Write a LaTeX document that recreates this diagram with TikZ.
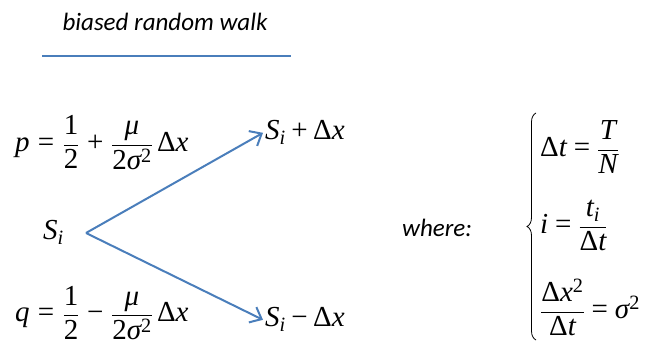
\documentclass[tikz,border=0pt]{standalone}
\usepackage{amsmath}
\usepackage{fontspec}
\newfontfamily\calfont{Carlito}
\newfontfamily\tnr{Liberation Serif}
\newcommand{\mi}[1]{\text{\tnr\itshape #1}}
\newcommand{\mr}[1]{\text{\tnr #1}}
\newcommand{\eqrel}{\mathrel{\mr{=}}}
\newcommand{\pl}{\mathbin{\mr{+}}}
\newcommand{\mn}{\mathbin{\mr{−}}}
\newcommand{\wsp}{\medmuskip=5.5mu\relax\thickmuskip=6mu\relax}
\usetikzlibrary{arrows.meta,decorations.pathreplacing}
\definecolor{walkblue}{RGB}{74,126,187}
\begin{document}
\begin{tikzpicture}[x=1pt,y=-1pt,
  every node/.style={inner sep=0pt},
  eq/.style={anchor=base west, font=\fontsize{29}{33}\selectfont},
  lbl/.style={font=\calfont\itshape\fontsize{25}{30}\selectfont},
  arr/.style={draw=walkblue, line width=2pt, -{Straight Barb[length=10pt,width=17pt]}}]
\useasboundingbox (0,0) rectangle (651,344);
% title
\node[lbl, anchor=base] (title) at (165,31) {biased random walk};
\draw[walkblue, line width=2pt] (42,56) -- (291,56);
% probabilities
\node[eq] (p) at (15,151.7) {$\wsp\mi{p}\eqrel\dfrac{\mr{1}}{\mr{2}}\pl\dfrac{\mi{μ}}{\mr{2}\mi{σ}^{\mr{2}}}\,\mr{Δ}\mi{x}$};
\node[eq] (q) at (15,322) {$\wsp\mi{q}\eqrel\dfrac{\mr{1}}{\mr{2}}\mn\dfrac{\mi{μ}}{\mr{2}\mi{σ}^{\mr{2}}}\,\mr{Δ}\mi{x}$};
% walk
\node[eq] (Si) at (43,240) {$\mi{S}_{\mi{i}}$};
\node[eq] (up) at (265,140) {$\mi{S}_{\mi{i}}\pl\mr{Δ}\mi{x}$};
\node[eq] (down) at (265,327) {$\mi{S}_{\mi{i}}\mn\mr{Δ}\mi{x}$};
\coordinate (fork) at (86,233);
\draw[arr] (fork) -- ([xshift=-2pt]up.west);
\draw[arr] (fork) -- ([xshift=-2pt]down.west);
% where
\node[lbl, anchor=base west] (where) at (402,236.7) {where:};
\draw[line width=0.8pt, decorate, decoration={brace, amplitude=9pt}] (536,340) -- (536,113);
\node[eq] (dt) at (540,156.5) {$\mr{Δ}\mi{t}\eqrel\dfrac{\mi{T}}{\mi{N}}$};
\node[eq] (ii) at (540,233.5) {$\mi{i}\eqrel\dfrac{\mi{t}_{\mi{i}}}{\mr{Δ}\mi{t}}$};
\node[eq] (dx) at (540,318.5) {$\dfrac{\mr{Δ}\mi{x}^{\mr{2}}}{\mr{Δ}\mi{t}}\eqrel\mi{σ}^{\mr{2}}$};
\end{tikzpicture}
\end{document}
